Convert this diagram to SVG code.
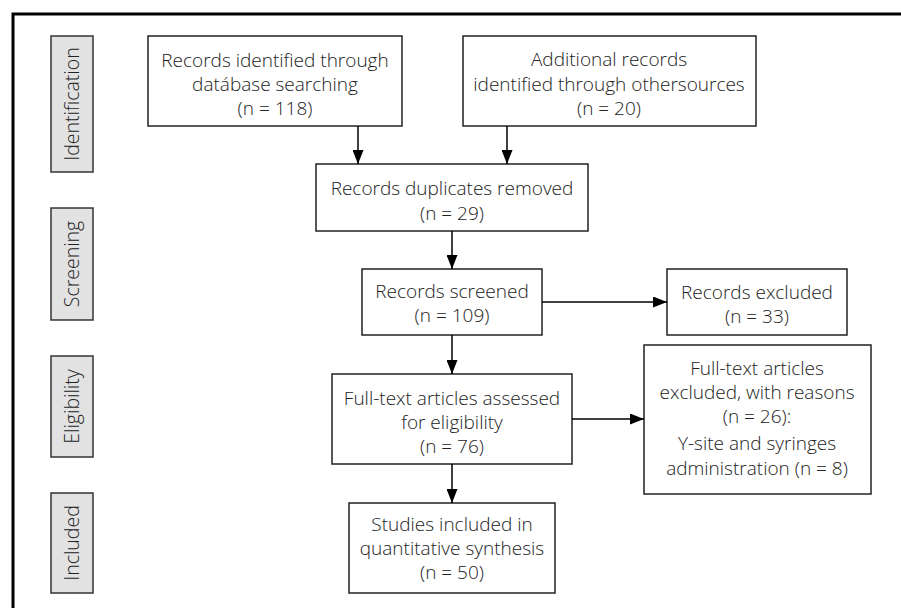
<svg xmlns="http://www.w3.org/2000/svg" width="901" height="608" viewBox="0 0 901 608">
<defs>
<marker id="ah" viewBox="0 0 14 11" refX="14" refY="5.5" markerWidth="14" markerHeight="11" markerUnits="userSpaceOnUse" orient="auto">
<path d="M0,0 L14,5.5 L0,11 Z" fill="#000"/>
</marker>
</defs>
<style>
.box{fill:#fff;stroke:#222;stroke-width:1.5}
.side{fill:#e2e2e2;stroke:#333;stroke-width:1.5}
text{font-family:"Open Sans","Liberation Sans",sans-serif;font-weight:300;font-size:19px;fill:#222;text-anchor:middle}
.side-t{font-size:19.5px}
.conn line{stroke:#000;stroke-width:1.5;marker-end:url(#ah)}
</style>
<rect width="901" height="608" fill="#fff"/>
<path d="M13,620 L13,14 L910,14" fill="none" stroke="#000" stroke-width="3"/>
<g id="side-identification"><rect class="side" x="51" y="36" width="42" height="136"/><text class="side-t" transform="translate(79,104) rotate(-90)">Identification</text></g>
<g id="side-screening"><rect class="side" x="51" y="208" width="42" height="112"/><text class="side-t" transform="translate(79,264) rotate(-90)">Screening</text></g>
<g id="side-eligibility"><rect class="side" x="51" y="356" width="42" height="101"/><text class="side-t" transform="translate(79,406.5) rotate(-90)">Eligibility</text></g>
<g id="side-included"><rect class="side" x="51" y="493" width="42" height="100"/><text class="side-t" transform="translate(79,543) rotate(-90)">Included</text></g>
<g id="n1"><rect class="box" x="148" y="36" width="254" height="90"/><text x="275" y="67">Records identified through</text><text x="275" y="91">datábase searching</text><text x="275" y="115">(n = 118)</text></g>
<g id="n2"><rect class="box" x="463" y="36" width="293" height="90"/><text x="609" y="66">Additional records</text><text x="609" y="91">identified through othersources</text><text x="609" y="115">(n = 20)</text></g>
<g id="n3"><rect class="box" x="316" y="164" width="272" height="67"/><text x="452" y="195">Records duplicates removed</text><text x="452" y="220">(n = 29)</text></g>
<g id="n4"><rect class="box" x="362" y="269" width="180" height="66"/><text x="452" y="298">Records screened</text><text x="452" y="322">(n = 109)</text></g>
<g id="n5"><rect class="box" x="667" y="269" width="180" height="66"/><text x="757" y="299">Records excluded</text><text x="757" y="323">(n = 33)</text></g>
<g id="n6"><rect class="box" x="332" y="374" width="240" height="90"/><text x="452" y="405">Full-text articles assessed</text><text x="452" y="429">for eligibility</text><text x="452" y="453">(n = 76)</text></g>
<g id="n7"><rect class="box" x="644" y="345" width="227" height="149"/><text x="757" y="375">Full-text articles</text><text x="757" y="399">excluded, with reasons</text><text x="757" y="423">(n = 26):</text><text x="757" y="450">Y-site and syringes</text><text x="757" y="475">administration (n = 8)</text></g>
<g id="n8"><rect class="box" x="349" y="503" width="206" height="90"/><text x="452" y="531">Studies included in</text><text x="452" y="555">quantitative synthesis</text><text x="452" y="579">(n = 50)</text></g>
<g class="conn" id="connectors">
<line x1="358" y1="126" x2="358" y2="164"/>
<line x1="507" y1="126" x2="507" y2="164"/>
<line x1="452" y1="231" x2="452" y2="269"/>
<line x1="542" y1="302" x2="667" y2="302"/>
<line x1="452" y1="335" x2="452" y2="374"/>
<line x1="572" y1="419" x2="644" y2="419"/>
<line x1="452" y1="464" x2="452" y2="503"/>
</g>
</svg>
